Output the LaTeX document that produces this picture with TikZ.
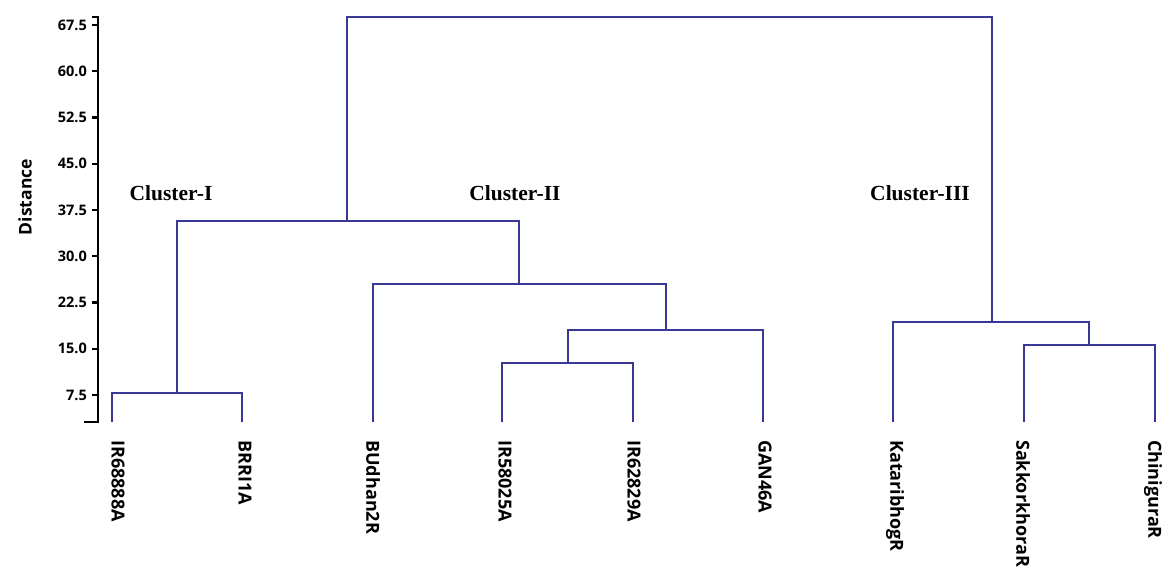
\documentclass[tikz,border=0pt]{standalone}
\usepackage{fontspec}
\setmainfont{Open Sans}
\newfontfamily\clusterfont{Liberation Serif}
\begin{document}
\begin{tikzpicture}[x=1pt,y=-1pt,
  tree/.style={draw=treeblue,line width=2.9pt,line join=miter},
  axisline/.style={draw=black,line width=2.3pt},
  leaflabel/.style={rotate=-90,anchor=west,inner sep=0pt,font=\fontsize{18}{20}\selectfont\bfseries},
  ticklabel/.style={anchor=east,inner sep=0pt,font=\fontsize{14.5}{16}\selectfont\bfseries},
  clusterlabel/.style={inner sep=0pt,font=\fontsize{21.5}{24}\clusterfont\bfseries},
]
\definecolor{treeblue}{RGB}{58,56,150}
\useasboundingbox (0,0) rectangle (1163,566);

% distance axis
\draw[axisline] (92,17) -- (98,17) -- (98,422) -- (84,422);
\foreach \v/\y in {67.5/25,60.0/71.25,52.5/117.5,45.0/163.75,37.5/210,30.0/256.25,22.5/302.5,15.0/348.75,7.5/395}{
  \draw[axisline] (92,\y) -- (98,\y);
  \node[ticklabel] at (87,\y) {\v};
}
\node[rotate=90,inner sep=0pt,font=\fontsize{17.5}{19}\selectfont\bfseries] (ylab) at (25,197) {Distance};

% leaves (tips)
\coordinate (l1) at (112,422);
\coordinate (l2) at (242,422);
\coordinate (l3) at (373,422);
\coordinate (l4) at (502,422);
\coordinate (l5) at (633,422);
\coordinate (l6) at (763,422);
\coordinate (l7) at (893,422);
\coordinate (l8) at (1024,422);
\coordinate (l9) at (1155,422);

% merge points (stem x, merge height)
\coordinate (c12)  at (177,393);
\coordinate (c45)  at (568,363);
\coordinate (c456) at (666,330);
\coordinate (c3456) at (519,284);
\coordinate (cI_II) at (347,221);
\coordinate (c89)  at (1089,345);
\coordinate (c789) at (992,322);
\coordinate (root) at (669,17);

% dendrogram
\draw[tree] (l1) |- (c12) -| (l2);
\draw[tree] (l4) |- (c45) -| (l5);
\draw[tree] (c45) |- (c456) -| (l6);
\draw[tree] (l3) |- (c3456) -| (c456);
\draw[tree] (c12) |- (cI_II) -| (c3456);
\draw[tree] (l8) |- (c89) -| (l9);
\draw[tree] (l7) |- (c789) -| (c89);
\draw[tree] (cI_II) |- (root) -| (c789);

% leaf labels
\node[leaflabel] (t1) at (118,440) {IR68888A};
\node[leaflabel] (t2) at (245,440) {BRRI1A};
\node[leaflabel] (t3) at (373,440) {BUdhan2R};
\node[leaflabel] (t4) at (505,440) {IR58025A};
\node[leaflabel] (t5) at (634,440) {IR62829A};
\node[leaflabel] (t6) at (765,440) {GAN46A};
\node[leaflabel] (t7) at (895,440) {KataribhogR};
\node[leaflabel] (t8) at (1023,440) {SakkorkhoraR};
\node[leaflabel] (t9) at (1153,440) {ChiniguraR};

% cluster labels
\node[clusterlabel] (k1) at (171,193) {Cluster-I};
\node[clusterlabel] (k2) at (515,193) {Cluster-II};
\node[clusterlabel] (k3) at (920,193) {Cluster-III};
\end{tikzpicture}
\end{document}
